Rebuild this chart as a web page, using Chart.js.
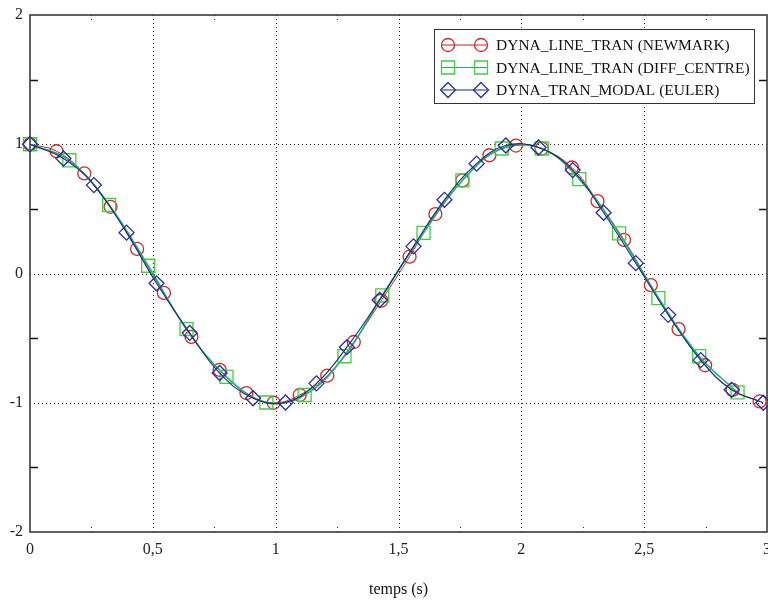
<!DOCTYPE html>
<html>
<head>
<meta charset="utf-8">
<script src="https://cdn.jsdelivr.net/npm/chart.js@4.4.1/dist/chart.umd.min.js"></script>
<style>
  html, body { margin: 0; padding: 0; background: #fff; }
  #wrap { width: 768px; height: 604px; position: relative; }
</style>
</head>
<body>
<div id="wrap"><canvas id="chart"></canvas></div>
<script>
// data
const newmarkT = [0, 0.108, 0.221, 0.328, 0.436, 0.545, 0.657, 0.772, 0.881, 0.992, 1.098, 1.21, 1.318, 1.43, 1.545, 1.65, 1.76, 1.87, 1.978, 2.083, 2.206, 2.31, 2.418, 2.527, 2.64, 2.748, 2.86, 2.97]
const newmarkY = [1, 0.946, 0.774, 0.516, 0.19, -0.15, -0.49, -0.746, -0.925, -1.0, -0.94, -0.79, -0.53, -0.21, 0.13, 0.46, 0.72, 0.915, 0.99, 0.967, 0.82, 0.56, 0.26, -0.09, -0.43, -0.71, -0.9, -0.99]

const diffT = [0, 0.16, 0.322, 0.481, 0.637, 0.8, 0.962, 1.118, 1.28, 1.434, 1.602, 1.76, 1.92, 2.083, 2.236, 2.398, 2.558, 2.724, 2.88]
const diffY = [1, 0.876, 0.53, 0.06, -0.43, -0.8, -0.998, -0.94, -0.64, -0.17, 0.315, 0.72, 0.967, 0.967, 0.73, 0.31, -0.19, -0.64, -0.92]

const eulerT = [0, 0.136, 0.26, 0.393, 0.515, 0.65, 0.772, 0.908, 1.04, 1.166, 1.29, 1.423, 1.561, 1.687, 1.818, 1.937, 2.07, 2.209, 2.335, 2.466, 2.598, 2.73, 2.856, 2.985]
const eulerY = [1, 0.89, 0.684, 0.316, -0.076, -0.46, -0.77, -0.965, -0.998, -0.85, -0.57, -0.205, 0.21, 0.57, 0.85, 0.99, 0.975, 0.8, 0.47, 0.08, -0.32, -0.67, -0.9, -1.0]

const seriesNames = ["DYNA_LINE_TRAN (NEWMARK)", "DYNA_LINE_TRAN (DIFF_CENTRE)", "DYNA_TRAN_MODAL (EULER)"]
const xMinorTicks = [0.25, 0.75, 1.25, 1.75, 2.25, 2.75]
const yMinorTicks = [-1.5, -0.5, 0.5, 1.5]

const serif = "'Liberation Serif', 'DejaVu Serif', serif"

const toPoints = (xs, ys) => xs.map((x, i) => ({x: x, y: ys[i]}))

// dotted grid, minor ticks and the axes box
const frame = {
  id: "frame",
  beforeDatasetsDraw(chart) {
    const {ctx, chartArea: a, scales: {x, y}} = chart
    ctx.save()
    ctx.strokeStyle = "#222"
    ctx.lineWidth = 1
    ctx.setLineDash([1, 3])
    x.ticks.forEach(t => {
      if (t.value <= x.min || t.value >= x.max) return
      const px = Math.round(x.getPixelForValue(t.value)) + 0.5
      ctx.beginPath(); ctx.moveTo(px, a.top); ctx.lineTo(px, a.bottom); ctx.stroke()
    })
    y.ticks.forEach(t => {
      if (t.value <= y.min || t.value >= y.max) return
      const py = Math.round(y.getPixelForValue(t.value)) + 0.5
      ctx.beginPath(); ctx.moveTo(a.left, py); ctx.lineTo(a.right, py); ctx.stroke()
    })
    xMinorTicks.forEach(v => {
      const px = Math.round(x.getPixelForValue(v)) + 0.5
      ctx.beginPath(); ctx.moveTo(px, a.top); ctx.lineTo(px, a.top + 8); ctx.stroke()
      ctx.beginPath(); ctx.moveTo(px, a.bottom); ctx.lineTo(px, a.bottom - 8); ctx.stroke()
    })
    ctx.setLineDash([])
    ctx.strokeStyle = "#111"
    ctx.lineWidth = 1.5
    yMinorTicks.forEach(v => {
      const py = Math.round(y.getPixelForValue(v)) + 0.5
      ctx.beginPath(); ctx.moveTo(a.left, py); ctx.lineTo(a.left + 8, py); ctx.stroke()
      ctx.beginPath(); ctx.moveTo(a.right, py); ctx.lineTo(a.right - 8, py); ctx.stroke()
    })
    ctx.strokeStyle = "#3a3a3a"
    ctx.lineWidth = 1.6
    ctx.strokeRect(a.left, a.top, a.right - a.left, a.bottom - a.top)
    ctx.restore()
  }
}

function marker(ctx, style, cx, cy, color) {
  ctx.strokeStyle = color
  ctx.lineWidth = 1.3
  ctx.beginPath()
  if (style === "circle") {
    ctx.arc(cx, cy, 6.5, 0, Math.PI * 2)
  } else if (style === "rect") {
    ctx.rect(cx - 6.5, cy - 6.5, 13, 13)
  } else {
    ctx.moveTo(cx - 7.5, cy); ctx.lineTo(cx, cy - 7.5); ctx.lineTo(cx + 7.5, cy); ctx.lineTo(cx, cy + 7.5); ctx.closePath()
  }
  ctx.stroke()
}

// legend box in the upper right, line with a marker at each end
const boxLegend = {
  id: "boxLegend",
  afterDraw(chart) {
    const {ctx, chartArea: a} = chart
    const right = a.right - 13, left = right - 320, top = a.top + 14, h = 74
    ctx.save()
    ctx.fillStyle = "#fff"
    ctx.fillRect(left, top, right - left, h)
    ctx.strokeStyle = "#333"
    ctx.lineWidth = 1
    ctx.strokeRect(left + 0.5, top + 0.5, right - left, h)
    ctx.font = "15.5px " + serif
    ctx.textBaseline = "middle"
    chart.data.datasets.forEach((ds, i) => {
      const yy = top + 16 + i * 22.5
      ctx.strokeStyle = ds.borderColor
      ctx.lineWidth = 1.2
      ctx.beginPath(); ctx.moveTo(left + 8, yy); ctx.lineTo(left + 53, yy); ctx.stroke()
      marker(ctx, ds.pointStyle, left + 14, yy, ds.pointBorderColor)
      marker(ctx, ds.pointStyle, left + 47, yy, ds.pointBorderColor)
      ctx.fillStyle = "#111"
      ctx.fillText(ds.label, left + 62, yy + 1)
    })
    ctx.restore()
  }
}

const ctx = document.getElementById("chart").getContext("2d")

new Chart(ctx, {
  type: "line",
  data: {
    datasets: [
      {
        label: seriesNames[0],
        data: toPoints(newmarkT, newmarkY),
        borderColor: "#cc2020",
        borderWidth: 1,
        pointStyle: "circle",
        pointRadius: 6.5,
        pointBorderColor: "#d02a2a",
        pointBackgroundColor: "rgba(0,0,0,0)",
        pointBorderWidth: 1.3,
        tension: 0.4,
        order: 2,
        clip: false,
      },
      {
        label: seriesNames[1],
        data: toPoints(diffT, diffY),
        borderColor: "#1fa88a",
        borderWidth: 1.6,
        pointStyle: "rect",
        pointRadius: 9.2,
        pointBorderColor: "#3fcf3f",
        pointBackgroundColor: "rgba(0,0,0,0)",
        pointBorderWidth: 1.3,
        tension: 0.4,
        order: 1,
        clip: false,
      },
      {
        label: seriesNames[2],
        data: toPoints(eulerT, eulerY),
        borderColor: "#13306e",
        borderWidth: 1.1,
        pointStyle: "rectRot",
        pointRadius: 7.5,
        pointBorderColor: "#2c2c96",
        pointBackgroundColor: "rgba(0,0,0,0)",
        pointBorderWidth: 1.3,
        tension: 0.4,
        order: 0,
        clip: false,
      },
    ],
  },
  options: {
    responsive: true,
    maintainAspectRatio: false,
    animation: false,
    layout: {autoPadding: false, padding: {top: 15, right: 1, left: 0, bottom: 0}},
    plugins: {
      legend: {display: false},
      tooltip: {enabled: false},
    },
    scales: {
      x: {
        type: "linear",
        min: 0,
        max: 3,
        grid: {display: false, drawTicks: false},
        border: {display: false},
        ticks: {
          stepSize: 0.5,
          padding: 8,
          color: "#222",
          font: {family: serif, size: 16},
          maxRotation: 0,
          callback: v => String(v).replace(".", ","),
        },
        title: {
          display: true,
          text: "temps (s)",
          color: "#111",
          font: {family: serif, size: 16},
          padding: {top: 0, bottom: 5},
        },
        afterFit: s => { s.height = 72; s.paddingLeft = 0; s.paddingRight = 0 },
      },
      y: {
        min: -2,
        max: 2,
        grid: {display: false, drawTicks: false},
        border: {display: false},
        ticks: {
          stepSize: 1,
          padding: 7,
          color: "#222",
          font: {family: serif, size: 16},
        },
        afterFit: s => { s.width = 30; s.paddingTop = 0; s.paddingBottom = 0 },
      },
    },
  },
  plugins: [frame, boxLegend],
})
</script>
</body>
</html>
